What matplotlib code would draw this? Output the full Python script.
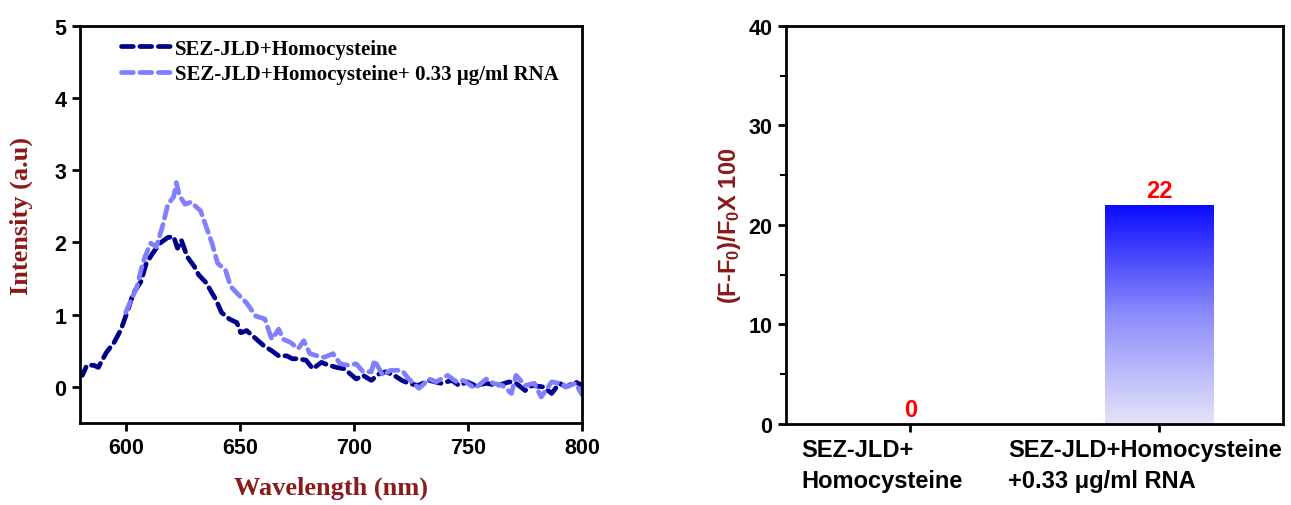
import matplotlib
matplotlib.use("Agg")
import matplotlib.pyplot as plt
import numpy as np
from matplotlib.colors import LinearSegmentedColormap

plt.rcParams["mathtext.fontset"] = "custom"
plt.rcParams["mathtext.rm"] = "Liberation Sans:bold"
plt.rcParams["mathtext.it"] = "Liberation Sans:bold"
plt.rcParams["mathtext.bf"] = "Liberation Sans:bold"

DARK_RED = "#8B1A1A"
SANS = "Liberation Sans"
SERIF = "Liberation Serif"

# emission spectra
wl_hcy = [580, 581, 583, 586, 588, 591.6, 595, 598, 601, 603.4, 606.7, 609, 611.8, 615, 618.5, 621,
          622.7, 624.4, 627, 630, 632, 635.3, 637.8, 639.5, 642, 645.4, 648.7, 650.4, 653, 655.5,
          660.5, 664, 667, 670.6, 673, 675.6, 679, 682, 685.7, 689, 692.4, 695.8, 701, 704, 707.6,
          711, 714, 717.6, 721, 724, 728, 733, 738, 743, 746, 749.6, 753, 758, 763, 768, 771, 775,
          778, 783, 786.6, 790, 793, 797, 800]
int_hcy = [0.18, 0.16, 0.30, 0.30, 0.27, 0.48, 0.62, 0.80, 1.07, 1.30, 1.46, 1.71, 1.85, 1.99, 2.07, 2.08,
           1.92, 2.03, 1.80, 1.67, 1.55, 1.44, 1.30, 1.21, 1.03, 0.94, 0.89, 0.75, 0.78, 0.71,
           0.57, 0.50, 0.43, 0.43, 0.39, 0.39, 0.37, 0.25, 0.34, 0.30, 0.27, 0.25, 0.11, 0.16, 0.09,
           0.18, 0.21, 0.16, 0.09, 0.05, 0.02, 0.09, 0.05, 0.09, 0.02, 0.07, 0.02, 0.05, 0.02, 0.07, 0.05, -0.05,
           0.02, 0.00, -0.09, 0.05, 0.00, 0.07, 0.02]

wl_rna = [600, 602.5, 605, 606.7, 608.4, 611, 613.4, 616, 618.5, 621, 622.2, 623.5, 626, 628.6, 631,
          632.8, 637.8, 640.3, 643.7, 646, 648.7, 653, 657, 661, 662, 664, 667, 669, 672, 675.6, 678,
          680.7, 684, 687, 690.8, 694, 697.5, 701, 704, 707.6, 709, 712.6, 716, 721, 724, 728.5, 733,
          736, 741, 745, 748, 753, 758, 761, 765, 769, 771, 775, 779, 782, 786.6, 790, 793, 797, 800]
int_rna = [1.03, 1.21, 1.39, 1.62, 1.80, 1.99, 1.94, 2.21, 2.53, 2.63, 2.83, 2.65, 2.53, 2.56, 2.49,
           2.44, 1.99, 1.71, 1.62, 1.39, 1.30, 1.16, 0.98, 0.94, 0.84, 0.66, 0.80, 0.66, 0.62, 0.53, 0.64,
           0.46, 0.43, 0.41, 0.46, 0.32, 0.30, 0.32, 0.21, 0.21, 0.37, 0.16, 0.23, 0.23, 0.11, -0.02, 0.11,
           0.07, 0.16, 0.07, 0.09, -0.02, 0.11, 0.05, 0.02, -0.09, 0.16, 0.02, 0.05, -0.14, 0.07, 0.05, 0.00, 0.05, -0.11]

label_hcy = "SEZ-JLD+Homocysteine"
label_rna = "SEZ-JLD+Homocysteine+ 0.33 μg/ml RNA"

# fluorescence enhancement bars
categories = ["SEZ-JLD+\nHomocysteine", "SEZ-JLD+Homocysteine\n+0.33 μg/ml RNA"]
enhancement = [0, 22]

fig = plt.figure(figsize=(12.91, 5.06), dpi=100)

# ---- left: spectra ----
ax = fig.add_axes([0.062, 0.162, 0.389, 0.785])
ax.plot(wl_hcy, int_hcy, color="#00008B", lw=3.4, dashes=(2.5, 1.4), dash_capstyle="round",
        label=label_hcy)
ax.plot(wl_rna, int_rna, color="#7F7FFF", lw=3.4, dashes=(2.5, 1.4), dash_capstyle="round",
        label=label_rna)
ax.set_xlim(580, 800)
ax.set_ylim(-0.5, 5)
ax.set_xticks([600, 650, 700, 750, 800])
ax.set_yticks([0, 1, 2, 3, 4, 5])
ax.set_xlabel("Wavelength (nm)", family=SERIF, weight="bold", fontsize=19, color=DARK_RED, labelpad=13)
ax.set_ylabel("Intensity (a.u)", family=SERIF, weight="bold", fontsize=19, color=DARK_RED)
ax.yaxis.set_label_coords(-0.093, 0.524)
ax.legend(loc="upper left", bbox_to_anchor=(0.045, 1.015), frameon=False, handlelength=2.5,
          handletextpad=0.05, labelspacing=0.25, prop={"family": SERIF, "weight": "bold", "size": 15})

# ---- right: bars ----
bx = fig.add_axes([0.609, 0.160, 0.385, 0.787])
xpos = np.arange(len(categories))
bars = bx.bar(xpos, enhancement, width=0.436, color="none", edgecolor="none")
cmap = LinearSegmentedColormap.from_list("fade", ["#E4E4FA", "#8C8CFB", "#0A0AFF"])
grad = np.linspace(0, 1, 256).reshape(-1, 1)
for rect in bars:
    h = rect.get_height()
    if h <= 0:
        continue
    x0 = rect.get_x()
    im = bx.imshow(grad, cmap=cmap, origin="lower", aspect="auto",
                   extent=(x0, x0 + rect.get_width(), 0, h), zorder=2)
    im.set_clip_path(rect)
for x, v in zip(xpos, enhancement):
    bx.text(x, v + 0.3, f"{v}", ha="center", va="bottom", color="red", family=SANS,
            weight="bold", fontsize=17, zorder=3)
bx.set_xlim(-0.5, 1.5)
bx.set_ylim(0, 40)
bx.set_yticks([0, 10, 20, 30, 40])
bx.set_yticks([5, 15, 25, 35], minor=True)
bx.set_xticks(xpos)
bx.set_xticklabels([])
for x, lab in zip([-0.44, 0.392], categories):
    bx.text(x, -1.4, lab, ha="left", va="top", family=SANS, weight="bold", fontsize=17,
            linespacing=1.45, transform=bx.transData)
bx.set_ylabel("(F-F$_0$)/F$_0$X 100", family=SANS, weight="bold", fontsize=17, color=DARK_RED, labelpad=4)

for a in (ax, bx):
    for s in a.spines.values():
        s.set_linewidth(2)
    a.tick_params(which="major", direction="out", length=6, width=2, labelsize=15.5, pad=4)
    a.tick_params(which="minor", direction="out", length=4, width=1.5)
    for t in a.get_xticklabels() + a.get_yticklabels():
        t.set_family(SANS)
        t.set_weight("bold")

fig.savefig("out.png", dpi=100)
